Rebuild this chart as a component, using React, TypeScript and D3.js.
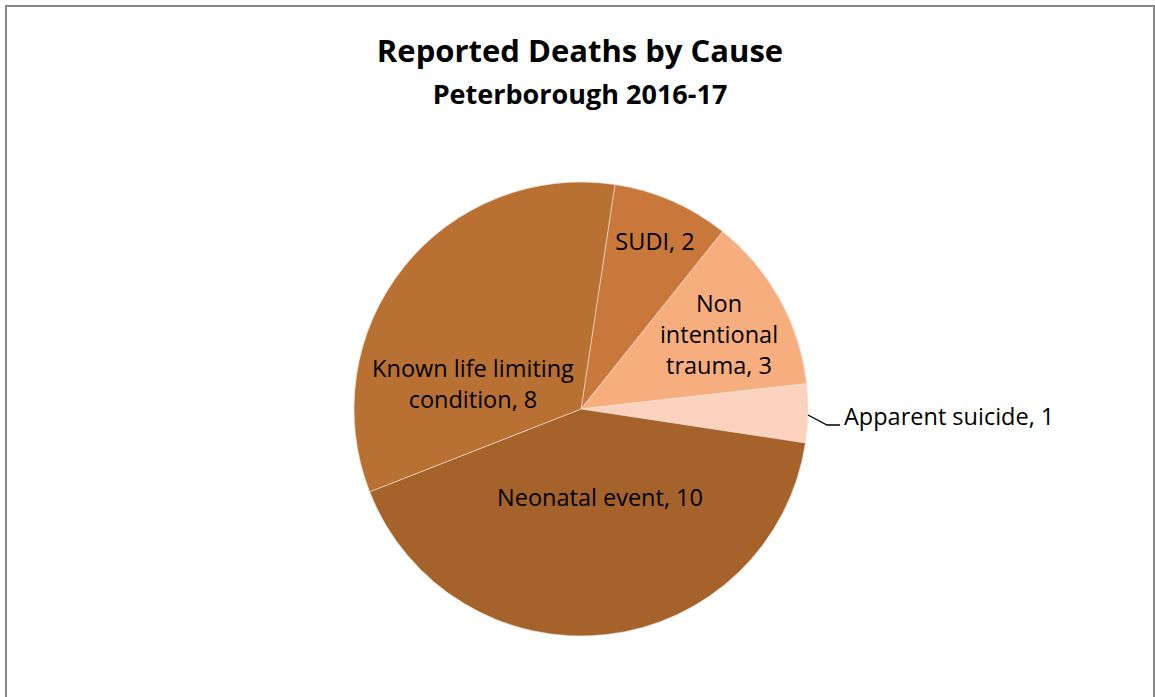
import React from "react";
import * as d3 from "d3";

const categories = ["SUDI", "Non intentional trauma", "Apparent suicide", "Neonatal event", "Known life limiting condition"];
const values = [2, 3, 1, 10, 8];
const colors = ["#C8783A", "#F7AE7E", "#FAD2BE", "#A5632B", "#B87033"];
const title = "Reported Deaths by Cause";
const subtitle = "Peterborough 2016-17";

// label layout (lines and anchor positions), not data
const labelLayout = [
  { lines: ["SUDI, 2"], x: 655, y: 250, anchor: "middle" },
  { lines: ["Non", "intentional", "trauma, 3"], x: 719, y: 312, anchor: "middle" },
  { lines: ["Apparent suicide, 1"], x: 844, y: 425, anchor: "start" },
  { lines: ["Neonatal event, 10"], x: 600, y: 506, anchor: "middle" },
  { lines: ["Known life limiting", "condition, 8"], x: 473, y: 377, anchor: "middle" },
];

export default function App() {
  const W = 1155, H = 697;
  const cx = 581, cy = 409, R = 227;
  const start = (8.6 * Math.PI) / 180;
  const pie = d3.pie<number>().sort(null).value((d) => d).startAngle(start).endAngle(start + 2 * Math.PI);
  const arcs = pie(values);
  const arc = d3.arc<d3.PieArcDatum<number>>().innerRadius(0).outerRadius(R);
  const font = "'Open Sans', Lato, sans-serif";
  return (
    <div style={{ position: "fixed", left: 0, top: 0 }}>
      <svg width={W} height={H} style={{ display: "block" }}>
        <rect x={0} y={0} width={W} height={H} fill="#fff" />
        <rect x={6} y={6} width={1148} height={H + 20} fill="none" stroke="#878787" strokeWidth={2} />
        <text x={580} y={62} textAnchor="middle" fontFamily={font} fontWeight="bold" fontSize={31} fill="#000">{title}</text>
        <text x={580} y={104} textAnchor="middle" fontFamily={font} fontWeight="bold" fontSize={27} fill="#000">{subtitle}</text>
        <g transform={`translate(${cx},${cy})`}>
          {arcs.map((a, i) => (
            <path key={categories[i]} d={arc(a) || ""} fill={colors[i]} stroke="#f3e3d6" strokeWidth={0.6} />
          ))}
        </g>
        <polyline points="808,415 827,425 840,425" fill="none" stroke="#000" strokeWidth={1.3} />
        {labelLayout.map((l, i) => (
          <text key={i} x={l.x} y={l.y} textAnchor={l.anchor as any} fontFamily={font} fontSize={23.5} fill="#000">
            {l.lines.map((ln, j) => (
              <tspan key={j} x={l.x} dy={j === 0 ? 0 : 31}>{ln}</tspan>
            ))}
          </text>
        ))}
      </svg>
    </div>
  );
}
